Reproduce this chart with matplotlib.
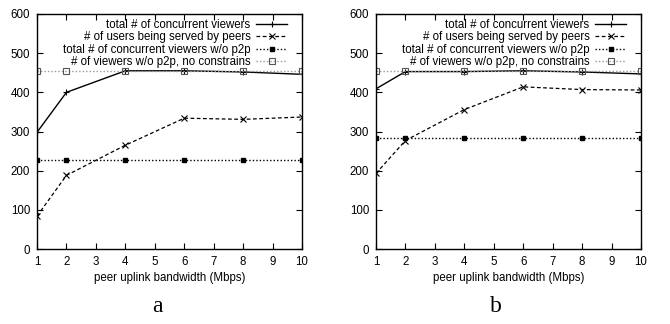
import numpy as np
import matplotlib.pyplot as plt

plt.rcParams['font.family'] = ['Liberation Sans', 'DejaVu Sans']
plt.rcParams['font.size'] = 8.3

# peer uplink bandwidth (Mbps)
bw = [1, 2, 4, 6, 8, 10]

# panel a
a_total = [298, 400, 455, 455, 452, 446]
a_peers = [84, 188, 265, 334, 331, 337]
a_nop2p = [226, 226, 226, 226, 226, 226]
a_nocons = [455, 455, 455, 455, 455, 455]

# panel b
b_total = [409, 453, 453, 455, 452, 447]
b_peers = [193, 277, 356, 414, 407, 406]
b_nop2p = [284, 284, 284, 284, 284, 284]
b_nocons = [455, 455, 455, 455, 455, 455]

labels = ['total # of concurrent viewers',
          '# of users being served by peers',
          'total # of concurrent viewers w/o p2p',
          '# of viewers w/o p2p, no constrains']

fig = plt.figure(figsize=(6.7, 3.24), dpi=100)
W, H = 670, 324


def panel(left, total, peers, nop2p, nocons, letter):
    ax = fig.add_axes([left / W, (H - 249) / H, 265 / W, 235 / H])
    ax.plot(bw, total, color='black', lw=1.0, marker='+', ms=5, mew=0.8,
            label=labels[0])
    ax.plot(bw, peers, color='black', lw=0.9, ls=(0, (3, 2)), marker='x',
            ms=4, mew=0.8, label=labels[1])
    ax.plot(bw, nop2p, color='black', lw=1.0, ls=(0, (1, 1.5)), marker='s',
            ms=3.5, mfc='black', label=labels[2])
    ax.plot(bw, nocons, color='#999999', lw=1.0, ls=(0, (1, 1.5)), marker='s',
            ms=5, mfc='none', mec='#555555', mew=0.8, label=labels[3])
    ax.set_xlim(1, 10)
    ax.set_ylim(0, 600)
    ax.set_xticks(np.arange(1, 11))
    ax.set_yticks(np.arange(0, 601, 100))
    ax.tick_params(direction='in', top=True, right=True, length=4, width=0.8,
                   pad=5)
    for s in ax.spines.values():
        s.set_linewidth(1.0)
    ax.set_xlabel('peer uplink bandwidth (Mbps)', labelpad=3)
    ax.legend(loc='upper right', bbox_to_anchor=(0.975, 1.012), frameon=False,
              markerfirst=False, labelspacing=0.02, handlelength=2.7,
              handletextpad=0.5, borderaxespad=0.3)
    fig.text((left + 120) / W, 1 - 307 / H, letter, ha='center', va='center',
             fontsize=17, family='Liberation Serif')


panel(37, a_total, a_peers, a_nop2p, a_nocons, 'a')
panel(376, b_total, b_peers, b_nop2p, b_nocons, 'b')

fig.savefig('out.png', dpi=100)
